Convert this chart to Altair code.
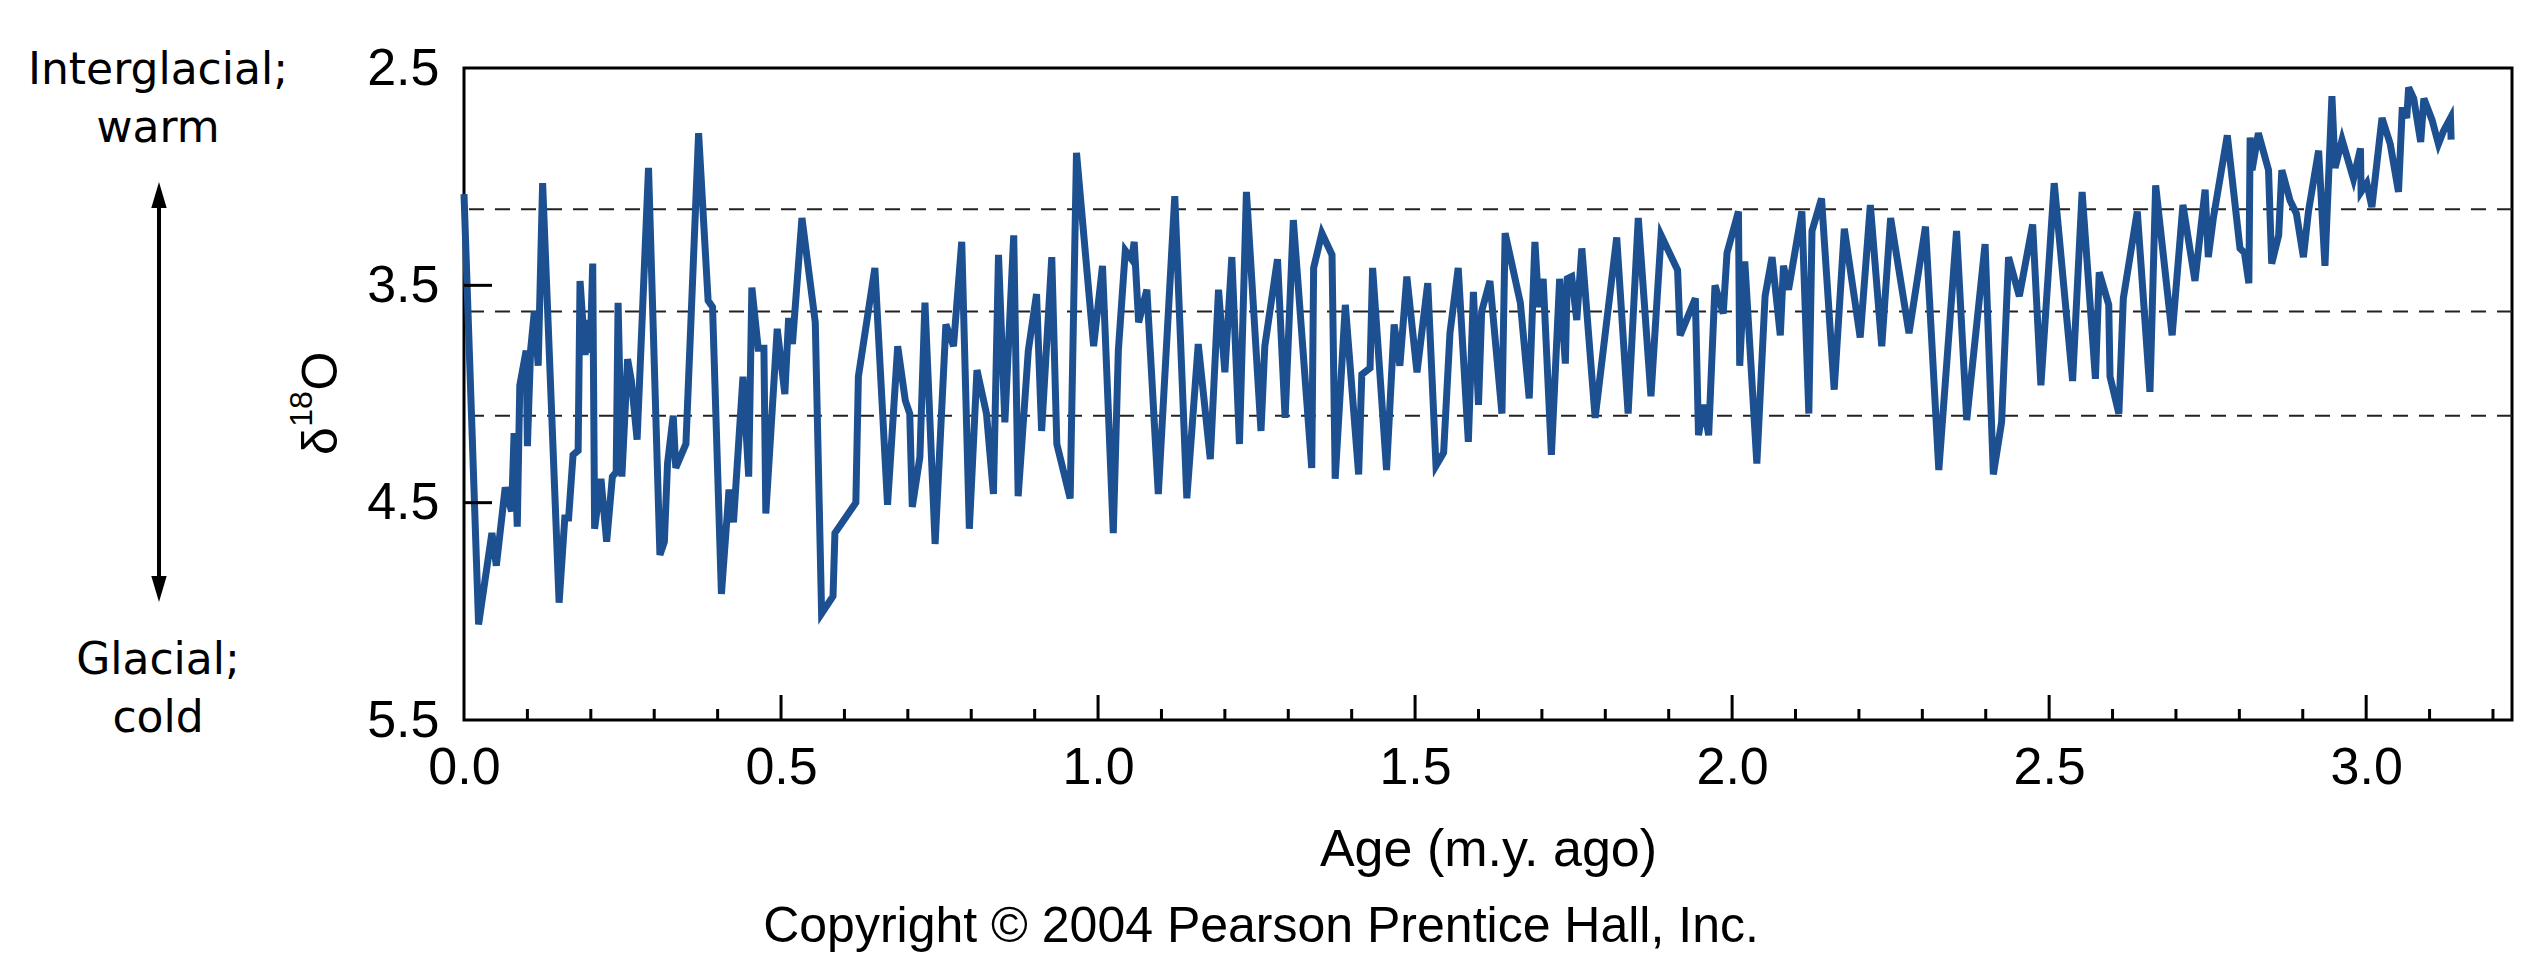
import altair as alt
import pandas as pd

# ---------------- data ----------------
age = [
    0.000, 0.023, 0.044, 0.051, 0.065, 0.075, 0.079, 0.084, 0.088, 0.098,
    0.100, 0.105, 0.111, 0.117, 0.124, 0.150, 0.159, 0.165, 0.172, 0.180,
    0.183, 0.191, 0.195, 0.199, 0.203, 0.206, 0.216, 0.225, 0.234, 0.240,
    0.243, 0.249, 0.258, 0.264, 0.273, 0.291, 0.309, 0.316, 0.321, 0.330,
    0.334, 0.350, 0.370,
    0.385, 0.392, 0.406, 0.418, 0.425, 0.440, 0.449, 0.454, 0.464, 0.473,
    0.476, 0.494, 0.506, 0.512, 0.518, 0.533, 0.554, 0.564, 0.582, 0.585,
    0.618, 0.622, 0.648, 0.668, 0.684, 0.696, 0.703, 0.707, 0.719, 0.727,
    0.743, 0.760,
    0.772, 0.785, 0.797, 0.809, 0.824, 0.835, 0.843, 0.853, 0.867, 0.874,
    0.890, 0.903, 0.911, 0.927, 0.935, 0.956, 0.966, 0.993, 1.007, 1.024,
    1.032, 1.043, 1.053, 1.057, 1.064, 1.077, 1.095, 1.121, 1.140,
    1.158, 1.177, 1.190, 1.200, 1.211, 1.223, 1.234, 1.257, 1.263, 1.283,
    1.295, 1.308, 1.337, 1.340, 1.353, 1.369, 1.374, 1.390, 1.411, 1.416,
    1.429, 1.433, 1.455, 1.467, 1.476, 1.487, 1.503, 1.520, 1.533, 1.545,
    1.555, 1.568, 1.584, 1.592, 1.600, 1.605, 1.618, 1.637, 1.642, 1.666,
    1.680, 1.689, 1.695, 1.702, 1.715, 1.728, 1.737, 1.740, 1.747, 1.755,
    1.763, 1.784, 1.818, 1.836, 1.852, 1.872, 1.888, 1.914, 1.918, 1.942,
    1.947, 1.955, 1.963, 1.973, 1.986, 1.992, 2.010, 2.012, 2.020, 2.039,
    2.052, 2.063, 2.076, 2.081, 2.089, 2.110, 2.121, 2.126, 2.141, 2.161,
    2.177, 2.202, 2.218, 2.236, 2.250, 2.279, 2.305, 2.326,
    2.354, 2.370, 2.399, 2.412, 2.425, 2.436, 2.453, 2.474, 2.487, 2.508,
    2.537, 2.552, 2.573, 2.579, 2.594, 2.596, 2.610, 2.617, 2.639, 2.659,
    2.668, 2.694, 2.711,
    2.730, 2.746, 2.751, 2.759, 2.781, 2.801, 2.808, 2.815, 2.817, 2.820,
    2.830, 2.846, 2.851, 2.862, 2.867, 2.880, 2.890, 2.901, 2.909, 2.925,
    2.935, 2.946, 2.951, 2.962, 2.972, 2.980, 2.991, 2.992, 3.001, 3.009,
    3.025, 3.038, 3.051, 3.057, 3.064, 3.067, 3.075, 3.086, 3.091, 3.104,
    3.114, 3.122, 3.133, 3.134,
]
d18o = [
    3.08, 5.06, 4.64, 4.79, 4.43, 4.54, 4.18, 4.61, 3.96, 3.80,
    4.24, 3.80, 3.62, 3.87, 3.03, 4.96, 4.57, 4.57, 4.28, 4.26,
    3.48, 3.82, 3.66, 3.81, 3.40, 4.62, 4.39, 4.68, 4.38, 4.36,
    3.58, 4.38, 3.84, 3.94, 4.21, 2.96, 4.74, 4.68, 4.32, 4.10,
    4.34, 4.23, 2.80,
    3.57, 3.60, 4.92, 4.44, 4.59, 3.92, 4.38, 3.51, 3.79, 3.79,
    4.55, 3.70, 4.00, 3.65, 3.77, 3.19, 3.67, 5.01, 4.93, 4.64,
    4.50, 3.92, 3.42, 4.51, 3.78, 4.03, 4.09, 4.52, 4.29, 3.58,
    4.69, 3.68,
    3.78, 3.30, 4.62, 3.89, 4.09, 4.46, 3.36, 4.13, 3.27, 4.47,
    3.80, 3.54, 4.17, 3.37, 4.23, 4.48, 2.89, 3.78, 3.41, 4.64,
    3.80, 3.34, 3.38, 3.30, 3.67, 3.52, 4.46, 3.09, 4.48,
    3.77, 4.30, 3.52, 3.90, 3.37, 4.23, 3.07, 4.17, 3.78, 3.38,
    4.11, 3.20, 4.34, 3.42, 3.26, 3.36, 4.39, 3.59, 4.37, 3.91,
    3.88, 3.42, 4.35, 3.68, 3.87, 3.46, 3.90, 3.49, 4.33, 4.27,
    3.72, 3.42, 4.22, 3.53, 4.05, 3.62, 3.48, 4.09, 3.26, 3.58,
    4.02, 3.30, 3.60, 3.47, 4.28, 3.47, 3.86, 3.47, 3.46, 3.66,
    3.33, 4.11, 3.28, 4.09, 3.19, 4.01, 3.27, 3.43, 3.73, 3.56,
    4.19, 4.05, 4.19, 3.50, 3.63, 3.35, 3.16, 3.87, 3.39, 4.32,
    3.55, 3.37, 3.73, 3.41, 3.52, 3.16, 4.09, 3.25, 3.10, 3.98,
    3.24, 3.74, 3.13, 3.78, 3.19, 3.72, 3.23, 4.35,
    3.25, 4.12, 3.31, 4.37, 4.13, 3.37, 3.55, 3.22, 3.96, 3.03,
    3.94, 3.07, 3.93, 3.44, 3.59, 3.92, 4.09, 3.56, 3.16, 3.99,
    3.04, 3.73, 3.13,
    3.48, 3.06, 3.37, 3.19, 2.81, 3.33, 3.35, 3.49, 2.82, 2.97,
    2.80, 2.97, 3.40, 3.27, 2.97, 3.11, 3.17, 3.37, 3.16, 2.88,
    3.41, 2.63, 2.96, 2.83, 2.93, 3.01, 2.87, 3.07, 3.03, 3.14,
    2.73, 2.85, 3.07, 2.68, 2.73, 2.59, 2.64, 2.84, 2.64, 2.74,
    2.85, 2.79, 2.73, 2.83,
]
dashed_levels = [3.15, 3.62, 4.10]
x_labels = [0.0, 0.5, 1.0, 1.5, 2.0, 2.5, 3.0]
x_major_ticks = [0.5, 1.0, 1.5, 2.0, 2.5, 3.0]
x_minor_ticks = [0.1, 0.2, 0.3, 0.4, 0.6, 0.7, 0.8, 0.9, 1.1, 1.2, 1.3, 1.4,
                 1.6, 1.7, 1.8, 1.9, 2.1, 2.2, 2.3, 2.4, 2.6, 2.7, 2.8, 2.9,
                 3.1, 3.2]
y_labels = [2.5, 3.5, 4.5, 5.5]
y_inner_ticks = [3.5, 4.5]

# ---------------- styling ----------------
W, H = 2048, 652
FONT = "Liberation Sans"
ANN_FONT = "DejaVu Sans"
BLUE = "#1d5090"

xs = alt.Scale(domain=[0, 3.23], nice=False, zero=False)
ys = alt.Scale(domain=[2.5, 5.5], reverse=True, nice=False, zero=False)

x_axis = alt.Axis(values=x_labels, format=".1f", title="Age (m.y. ago)",
                  ticks=False, tickSize=0, domain=False, grid=False,
                  labelFont=FONT, labelFontSize=52, labelColor="black",
                  labelPadding=63, labelBaseline="alphabetic",
                  labelFlush=False, labelOverlap=False,
                  titleFont=FONT, titleFontSize=52, titleFontWeight="normal",
                  titleColor="black", titleY=145, titleBaseline="alphabetic")
y_axis = alt.Axis(values=y_labels, format=".1f", title=None,
                  ticks=False, tickSize=0, domain=False, grid=False,
                  labelFont=FONT, labelFontSize=52, labelColor="black",
                  labelPadding=25, labelBaseline="middle",
                  labelFlush=False, labelOverlap=False)


def X(field):
    return alt.X(field, type="quantitative", scale=xs, axis=x_axis)


def Y(field):
    return alt.Y(field, type="quantitative", scale=ys, axis=y_axis)


df = pd.DataFrame({"age": age, "d18o": d18o})

dashes = alt.Chart(pd.DataFrame({"lvl": dashed_levels})).mark_rule(
    color="#222222", strokeWidth=2, strokeDash=[15, 11]
).encode(y=Y("lvl"))

line = alt.Chart(df).mark_line(color=BLUE, strokeWidth=7).encode(
    x=X("age"), y=Y("d18o")
)

major = alt.Chart(pd.DataFrame({"t": x_major_ticks})).mark_rule(
    color="black", strokeWidth=3
).encode(x=X("t"), y=alt.value(H), y2=alt.value(H - 25))

minor = alt.Chart(pd.DataFrame({"t": x_minor_ticks})).mark_rule(
    color="black", strokeWidth=3
).encode(x=X("t"), y=alt.value(H), y2=alt.value(H - 11))

yticks = alt.Chart(pd.DataFrame({"t": y_inner_ticks})).mark_rule(
    color="black", strokeWidth=3
).encode(y=Y("t"), x=alt.value(0), x2=alt.value(28))


def text(s, x, y, size, font=FONT, angle=0, baseline="alphabetic"):
    kw = dict(font=font, fontSize=size, color="black", align="center",
              baseline=baseline)
    if angle:
        kw["angle"] = angle
    return alt.Chart(pd.DataFrame({"t": [s]})).mark_text(**kw).encode(
        text="t:N", x=alt.value(x), y=alt.value(y))


AX = -306
ann = [
    text("Interglacial;", AX, 16, 44, ANN_FONT),
    text("warm", AX, 74, 44, ANN_FONT),
    text("Glacial;", AX, 606, 44, ANN_FONT),
    text("cold", AX, 664, 44, ANN_FONT),
    text("δ", -142, 373, 50, FONT, 270, "middle"),
    text("18", -162, 341, 32, FONT, 270, "middle"),
    text("O", -142, 303, 50, FONT, 270, "middle"),
    text("Copyright © 2004 Pearson Prentice Hall, Inc.", 797, 874, 50),
]

arrow_shaft = alt.Chart(pd.DataFrame({"t": [0]})).mark_rule(
    color="black", strokeWidth=4
).encode(x=alt.value(AX + 1), y=alt.value(128), y2=alt.value(520))

head_up = alt.Chart(pd.DataFrame({"t": [0]})).mark_point(
    shape="M0,-1L0.55,0.85L-0.55,0.85Z", filled=True, color="black",
    size=784, opacity=1
).encode(x=alt.value(AX + 1), y=alt.value(128))

head_down = alt.Chart(pd.DataFrame({"t": [0]})).mark_point(
    shape="M0,1L0.55,-0.85L-0.55,-0.85Z", filled=True, color="black",
    size=784, opacity=1
).encode(x=alt.value(AX + 1), y=alt.value(520))

chart = alt.layer(
    dashes, line, major, minor, yticks, arrow_shaft, head_up, head_down, *ann
).properties(
    width=W, height=H,
    autosize=alt.AutoSizeParams(type="none"),
    padding={"left": 456, "top": 60, "right": 16, "bottom": 240},
    background="white",
).configure_view(
    stroke="black", strokeWidth=3
)

chart.save("out.html", embed_options={"renderer": "svg", "actions": False})
